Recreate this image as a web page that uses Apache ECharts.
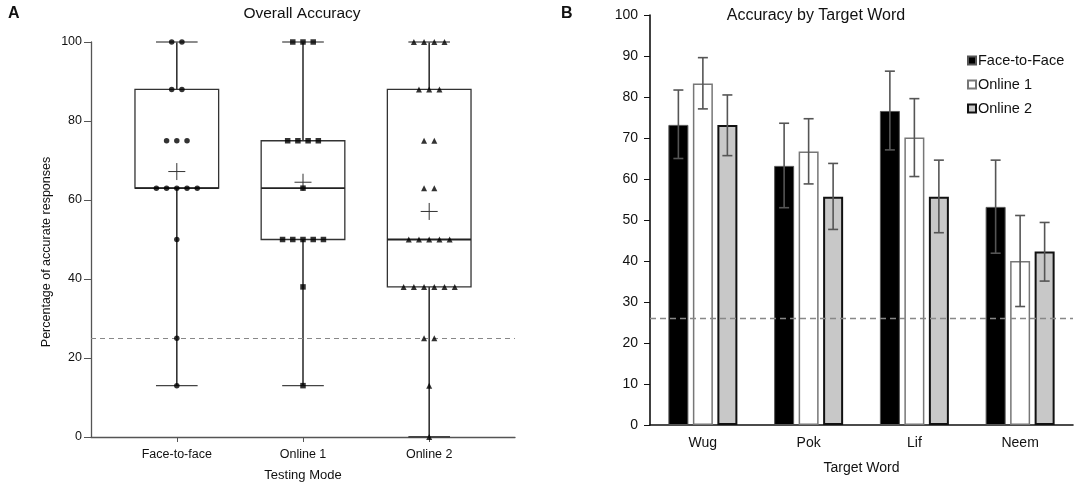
<!DOCTYPE html>
<html>
<head>
<meta charset="utf-8">
<script src="https://cdn.jsdelivr.net/npm/echarts@6/dist/echarts.min.js"></script>
<style>
html,body{margin:0;padding:0;background:#fff;}
#chart{width:1084px;height:487px;}
</style>
</head>
<body>
<div id="chart"></div>
<script>
// ---------- Panel A data ----------
const modes = ['Face-to-face', 'Online 1', 'Online 2'];
const boxMin    = [13, 13, 0];
const boxQ1     = [63, 50, 38];
const boxMedian = [63, 63, 50];
const boxQ3     = [88, 75, 88];
const boxMax    = [100, 100, 100];
const boxMean   = [67.2, 64.5, 57.1];
const f2fScores = [100,100,88,88,75,75,75,63,63,63,63,63,50,25,13];
const online1Scores = [100,100,100,75,75,75,75,63,50,50,50,50,50,38,13];
const online2Scores = [100,100,100,100,88,88,88,75,75,63,63,50,50,50,50,50,38,38,38,38,38,38,25,25,13,0];
const chanceA = 25;

// ---------- Panel B data ----------
const words = ['Wug', 'Pok', 'Lif', 'Neem'];
const seriesNames = ['Face-to-Face', 'Online 1', 'Online 2'];
const f2fMeans  = [73.2, 63.2, 76.6, 53.2];
const f2fLow    = [65.0, 53.0, 67.1, 41.9];
const f2fHigh   = [81.7, 73.6, 86.3, 64.6];
const on1Means  = [83.3, 66.7, 70.1, 40.0];
const on1Low    = [77.1, 58.8, 60.6, 28.9];
const on1High   = [89.6, 74.7, 79.6, 51.1];
const on2Means  = [73.2, 55.7, 55.7, 42.3];
const on2Low    = [65.7, 47.7, 46.9, 35.1];
const on2High   = [80.5, 63.8, 64.6, 49.4];
const chanceB = 26;

// ---------- layout constants ----------
const FONT = 'Liberation Sans, Arial, sans-serif';
const BOX_W = 0.663, CAP_W = 0.33, MEAN_HALF_PX = 8.5, JITTER = 0.081;
const BAR_W = 20, BAR_STEP = 24.5;

const chart = echarts.init(document.getElementById('chart'), null, {renderer: 'canvas'});

const boxData = modes.map((m, i) => [i, boxMin[i], boxQ1[i], boxMedian[i], boxQ3[i], boxMax[i], boxMean[i]]);

function swarm(scores, xi) {
  const counts = {};
  scores.forEach(v => counts[v] = (counts[v] || 0) + 1);
  const seen = {};
  return scores.map(v => {
    const n = counts[v];
    const k = seen[v] = (seen[v] === undefined ? 0 : seen[v] + 1);
    return [xi + (k - (n - 1) / 2) * JITTER, v];
  });
}

function renderBox(params, api) {
  const x = api.value(0);
  const mn = api.value(1), q1 = api.value(2), md = api.value(3), q3 = api.value(4), mx = api.value(5), mean = api.value(6);
  const hw = api.size([BOX_W, 0])[0] / 2;
  const cw = api.size([CAP_W, 0])[0] / 2;
  const c = (v) => api.coord([x, v]);
  const pMin = c(mn), pQ1 = c(q1), pMd = c(md), pQ3 = c(q3), pMx = c(mx), pMean = c(mean);
  const cx = pMd[0];
  const ls = {stroke: '#333', lineWidth: 1.3, fill: null};
  return {
    type: 'group',
    children: [
      {type: 'line', shape: {x1: cx, y1: pMx[1], x2: cx, y2: pQ3[1]}, style: {stroke: '#333', lineWidth: 1.6}},
      {type: 'line', shape: {x1: cx, y1: pQ1[1], x2: cx, y2: pMin[1]}, style: {stroke: '#333', lineWidth: 1.6}},
      {type: 'line', shape: {x1: cx - cw, y1: pMx[1], x2: cx + cw, y2: pMx[1]}, style: {stroke: '#666', lineWidth: 1.3}},
      {type: 'line', shape: {x1: cx - cw, y1: pMin[1], x2: cx + cw, y2: pMin[1]}, style: {stroke: '#444', lineWidth: mn === 0 ? 2 : 1.3}},
      {type: 'rect', shape: {x: cx - hw, y: pQ3[1], width: 2 * hw, height: pQ1[1] - pQ3[1]}, style: ls},
      {type: 'line', shape: {x1: cx - hw, y1: pMd[1], x2: cx + hw, y2: pMd[1]}, style: {stroke: '#222', lineWidth: 1.8}},
      {type: 'line', shape: {x1: cx - MEAN_HALF_PX, y1: pMean[1], x2: cx + MEAN_HALF_PX, y2: pMean[1]}, style: {stroke: '#333', lineWidth: 1}},
      {type: 'line', shape: {x1: cx, y1: pMean[1] - MEAN_HALF_PX, x2: cx, y2: pMean[1] + MEAN_HALF_PX}, style: {stroke: '#333', lineWidth: 1}}
    ]
  };
}

function errData(low, high) { return words.map((w, i) => [i, low[i], high[i]]); }
function renderErr(offset) {
  return function (params, api) {
    const i = api.value(0);
    const lo = api.coord([i, api.value(1)]);
    const hi = api.coord([i, api.value(2)]);
    const x = lo[0] + offset;
    const st = {stroke: '#555', lineWidth: 1.6};
    return {type: 'group', children: [
      {type: 'line', shape: {x1: x, y1: hi[1], x2: x, y2: lo[1]}, style: st},
      {type: 'line', shape: {x1: x - 5, y1: hi[1], x2: x + 5, y2: hi[1]}, style: st},
      {type: 'line', shape: {x1: x - 5, y1: lo[1], x2: x + 5, y2: lo[1]}, style: st}
    ]};
  };
}

const option = {
  animation: false,
  backgroundColor: '#fff',
  textStyle: {fontFamily: FONT},
  grid: [
    {left: 91, right: 569, top: 42, bottom: 49.3, containLabel: false},
    {left: 650, right: 11, top: 15, bottom: 62, containLabel: false}
  ],
  xAxis: [
    {
      gridIndex: 0, type: 'value', min: -0.68, max: 2.68,
      axisLine: {onZero: false, lineStyle: {color: '#555', width: 1.3}},
      axisTick: {show: true, customValues: [0, 1, 2], length: 5, lineStyle: {color: '#555'}},
      axisLabel: {customValues: [0, 1, 2], formatter: v => modes[Math.round(v)], color: '#111', fontSize: 12.5, fontFamily: FONT, margin: 11},
      splitLine: {show: false},
      name: 'Testing Mode', nameLocation: 'middle', nameGap: 32,
      nameTextStyle: {color: '#111', fontSize: 13, fontFamily: FONT}
    },
    {
      gridIndex: 1, type: 'category', data: words, boundaryGap: true,
      axisLine: {lineStyle: {color: '#111', width: 1.6}},
      axisTick: {alignWithLabel: true, length: 4, lineStyle: {color: '#111'}},
      axisLabel: {color: '#111', fontSize: 14, fontFamily: FONT, margin: 11},
      name: 'Target Word', nameLocation: 'middle', nameGap: 36,
      nameTextStyle: {color: '#111', fontSize: 14, fontFamily: FONT}
    }
  ],
  yAxis: [
    {
      gridIndex: 0, type: 'value', min: 0, max: 100, interval: 20,
      axisLine: {show: true, onZero: false, lineStyle: {color: '#555', width: 1.3}},
      axisTick: {show: true, length: 7, lineStyle: {color: '#555'}},
      axisLabel: {color: '#111', fontSize: 12.5, fontFamily: FONT, margin: 9},
      splitLine: {show: false}
    },
    {
      gridIndex: 1, type: 'value', min: 0, max: 100, interval: 10,
      axisLine: {show: true, onZero: false, lineStyle: {color: '#111', width: 1.6}},
      axisTick: {show: true, length: 6, lineStyle: {color: '#111'}},
      axisLabel: {color: '#111', fontSize: 14, fontFamily: FONT, margin: 12},
      splitLine: {show: false}
    }
  ],
  legend: {
    data: seriesNames, orient: 'vertical', left: 962, top: 48,
    icon: 'rect',
    itemWidth: 8, itemHeight: 8, itemGap: 9,
    textStyle: {fontSize: 14.5, color: '#111', fontFamily: FONT, padding: [0, 0, 0, -3]},
    selectedMode: false
  },
  graphic: [
    {type: 'text', left: 8, top: 6, style: {text: 'A', font: 'bold 16px ' + FONT, fill: '#111'}},
    {type: 'text', left: 561, top: 6, style: {text: 'B', font: 'bold 16px ' + FONT, fill: '#111'}},
    {type: 'text', x: 302, y: 14, style: {text: 'Overall Accuracy', font: '15.5px ' + FONT, fill: '#111', align: 'center', verticalAlign: 'middle'}},
    {type: 'text', x: 816, y: 16, style: {text: 'Accuracy by Target Word', font: '16px ' + FONT, fill: '#111', align: 'center', verticalAlign: 'middle'}},
    {type: 'text', x: 47, y: 252, rotation: Math.PI / 2, style: {text: 'Percentage of accurate responses', font: '12.5px ' + FONT, fill: '#111', align: 'center', verticalAlign: 'middle'}}
  ],
  series: [
    {
      type: 'custom', xAxisIndex: 0, yAxisIndex: 0, renderItem: renderBox,
      data: boxData, encode: {x: 0, y: [1, 2, 3, 4, 5, 6]}, z: 2,
      markLine: {
        silent: true, symbol: 'none', label: {show: false},
        lineStyle: {color: '#888', type: [5, 4], width: 1.2},
        data: [{yAxis: chanceA}]
      }
    },
    {type: 'scatter', xAxisIndex: 0, yAxisIndex: 0, symbol: 'circle', symbolSize: 5.5, itemStyle: {color: '#000'}, data: swarm(f2fScores, 0), z: 5},
    {type: 'scatter', xAxisIndex: 0, yAxisIndex: 0, symbol: 'rect', symbolSize: 5.5, itemStyle: {color: '#000'}, data: swarm(online1Scores, 1), z: 5},
    {type: 'scatter', xAxisIndex: 0, yAxisIndex: 0, symbol: 'triangle', symbolSize: 6, itemStyle: {color: '#000'}, data: swarm(online2Scores, 2), z: 5},

    {
      name: seriesNames[0], type: 'bar', xAxisIndex: 1, yAxisIndex: 1, data: f2fMeans,
      barWidth: BAR_W, barGap: '22.5%',
      itemStyle: {color: '#000', borderColor: '#555', borderWidth: 1}, z: 2,
      markLine: {
        silent: true, symbol: 'none', label: {show: false},
        lineStyle: {color: '#888', type: [6, 4], width: 1.3},
        data: [{yAxis: chanceB}]
      }
    },
    {
      name: seriesNames[1], type: 'bar', xAxisIndex: 1, yAxisIndex: 1, data: on1Means,
      barWidth: BAR_W, barGap: '22.5%',
      itemStyle: {color: '#fff', borderColor: '#777', borderWidth: 1.5}, z: 2
    },
    {
      name: seriesNames[2], type: 'bar', xAxisIndex: 1, yAxisIndex: 1, data: on2Means,
      barWidth: BAR_W, barGap: '22.5%',
      itemStyle: {color: '#c8c8c8', borderColor: '#111', borderWidth: 2}, z: 2
    },
    {type: 'custom', xAxisIndex: 1, yAxisIndex: 1, renderItem: renderErr(-BAR_STEP), data: errData(f2fLow, f2fHigh), encode: {x: 0, y: [1, 2]}, z: 6},
    {type: 'custom', xAxisIndex: 1, yAxisIndex: 1, renderItem: renderErr(0), data: errData(on1Low, on1High), encode: {x: 0, y: [1, 2]}, z: 6},
    {type: 'custom', xAxisIndex: 1, yAxisIndex: 1, renderItem: renderErr(BAR_STEP), data: errData(on2Low, on2High), encode: {x: 0, y: [1, 2]}, z: 6}
  ]
};
chart.setOption(option);
</script>
</body>
</html>
